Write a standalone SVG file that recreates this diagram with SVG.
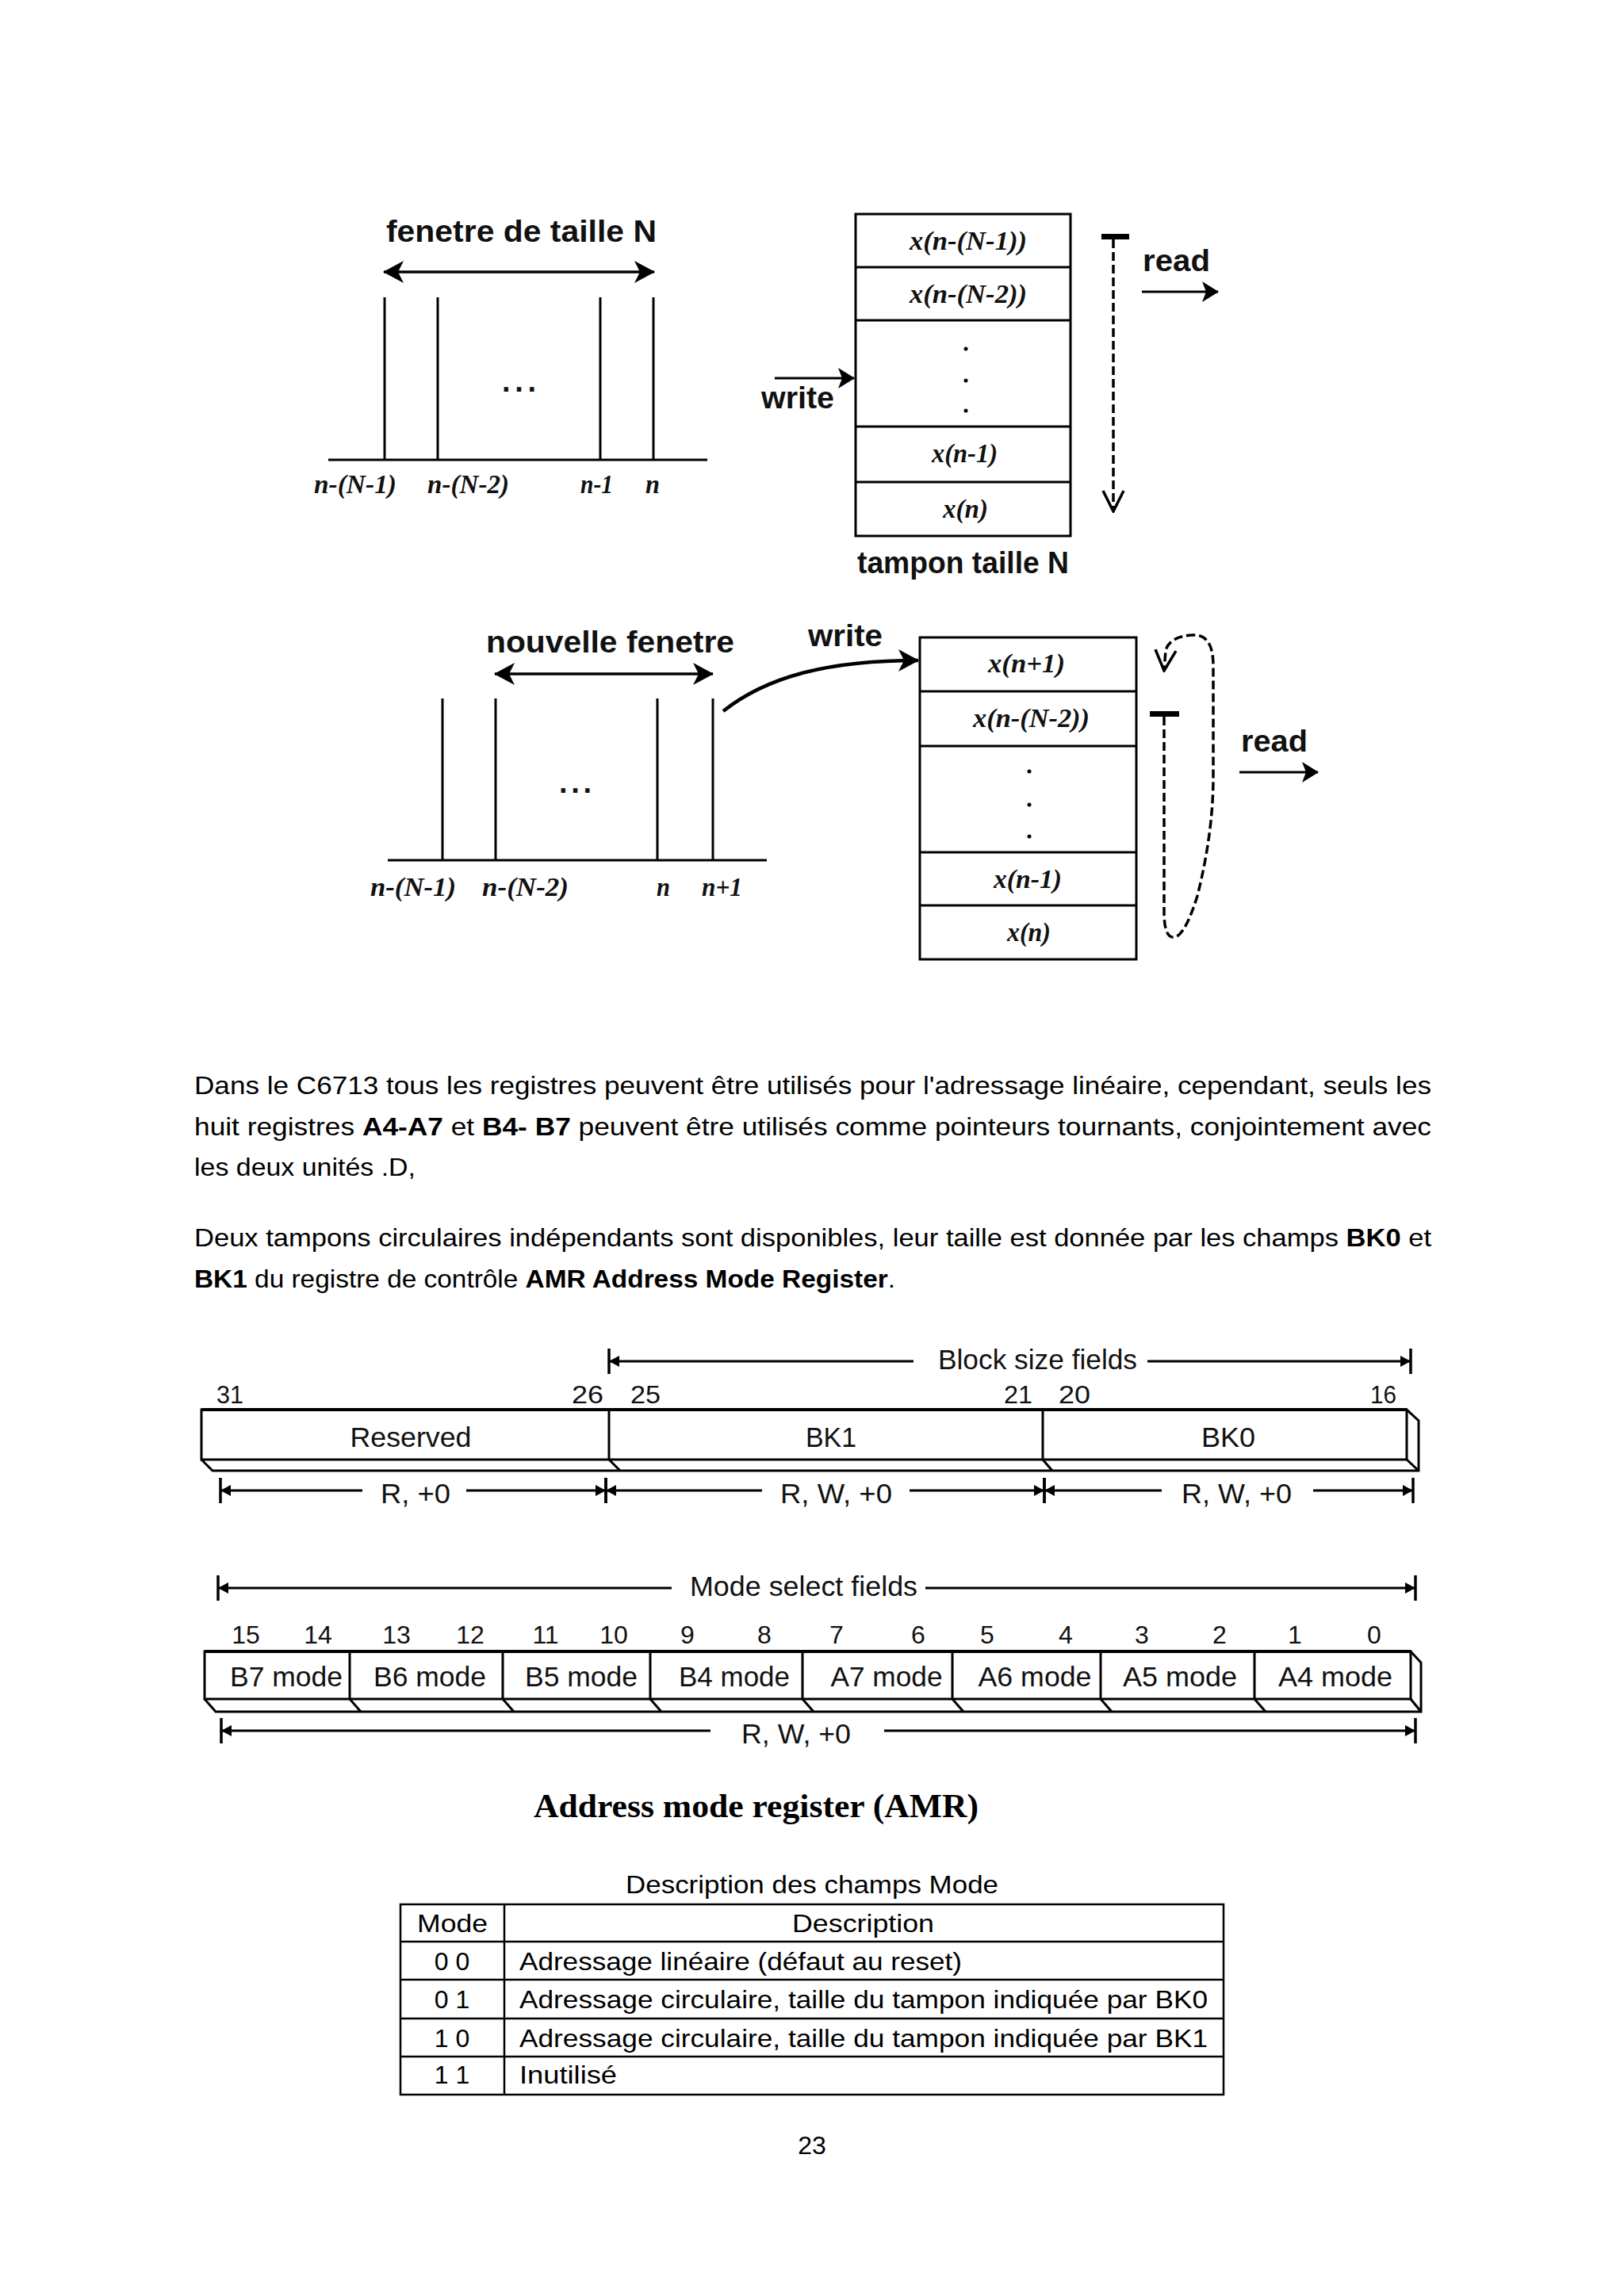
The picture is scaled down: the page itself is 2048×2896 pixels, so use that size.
<svg xmlns="http://www.w3.org/2000/svg" width="2048" height="2896" viewBox="0 0 2048 2896">
<defs>
<style>
.sb{font-family:"Liberation Sans",Arial,sans-serif;font-weight:bold;font-size:38px;fill:#111}
.mi{font-family:"Liberation Serif","Times New Roman",serif;font-weight:bold;font-style:italic;font-size:33px;fill:#111}
.rg{font-family:"Liberation Sans",Arial,sans-serif;font-size:35px;fill:#111}
.num{font-family:"Liberation Sans",Arial,sans-serif;font-size:32px;fill:#111}
.body{font-family:"Liberation Sans",Arial,sans-serif;font-size:32px;fill:#000}
.tb{font-family:"Liberation Sans",Arial,sans-serif;font-size:32px;fill:#000}
.ln{stroke:#000;stroke-width:3;fill:none}
.box{stroke:#000;stroke-width:3;fill:#fff}
.dash{stroke:#000;stroke-width:3.5;fill:none;stroke-dasharray:11 5}
.tk{stroke:#000;stroke-width:3;fill:none;marker-start:url(#tick)}
.tke{stroke:#000;stroke-width:3;fill:none;marker-end:url(#tick)}
</style>
<marker id="tick" viewBox="-16 -19 20 38" refX="0" refY="0" markerWidth="20" markerHeight="38" markerUnits="userSpaceOnUse" orient="auto-start-reverse">
<path d="M0,0 L-13,-7 L-13,7 Z" fill="#000"/>
<line x1="0" y1="-16" x2="0" y2="16" stroke="#000" stroke-width="3.5"/>
</marker>
<marker id="fa" viewBox="-28 -16 30 32" refX="0" refY="0" markerWidth="30" markerHeight="32" markerUnits="userSpaceOnUse" orient="auto-start-reverse">
<path d="M1,0 L-25,-14 L-18,0 L-25,14 Z" fill="#000"/>
</marker>
<marker id="fs" viewBox="-24 -15 26 30" refX="0" refY="0" markerWidth="26" markerHeight="30" markerUnits="userSpaceOnUse" orient="auto">
<path d="M1,0 L-20,-13 L-15,0 L-20,13 Z" fill="#000"/>
</marker>
<marker id="vo" viewBox="-30 -16 32 32" refX="0" refY="0" markerWidth="32" markerHeight="32" markerUnits="userSpaceOnUse" orient="auto">
<path d="M-26,-13 L0,0 L-26,13" fill="none" stroke="#000" stroke-width="3.5"/>
</marker>
</defs>
<rect x="0" y="0" width="2048" height="2896" fill="#fff"/>

<!-- Diagram 1: window -->
<g id="window1">
<text class="sb" x="487" y="305" textLength="341" lengthAdjust="spacingAndGlyphs">fenetre de taille N</text>
<line class="ln" x1="414" y1="580" x2="892" y2="580"/>
<line class="ln" x1="485" y1="375" x2="485" y2="580"/>
<line class="ln" x1="552" y1="375" x2="552" y2="580"/>
<line class="ln" x1="757" y1="375" x2="757" y2="580"/>
<line class="ln" x1="824" y1="375" x2="824" y2="580"/>
<text class="sb" x="633" y="494" textLength="43">...</text>
<text class="mi" x="396" y="622" textLength="104" lengthAdjust="spacingAndGlyphs">n-(N-1)</text>
<text class="mi" x="539" y="622" textLength="103" lengthAdjust="spacingAndGlyphs">n-(N-2)</text>
<text class="mi" x="732" y="622" textLength="41" lengthAdjust="spacingAndGlyphs">n-1</text>
<text class="mi" x="814" y="622" textLength="18" lengthAdjust="spacingAndGlyphs">n</text>
</g>

<g id="buffer1">
<rect class="box" x="1079" y="270" width="271" height="406"/>
<line class="ln" x1="1079" y1="337" x2="1350" y2="337"/>
<line class="ln" x1="1079" y1="404" x2="1350" y2="404"/>
<line class="ln" x1="1079" y1="538" x2="1350" y2="538"/>
<line class="ln" x1="1079" y1="608" x2="1350" y2="608"/>
<text class="mi" x="1147" y="315" textLength="148" lengthAdjust="spacingAndGlyphs">x(n-(N-1))</text>
<text class="mi" x="1147" y="382" textLength="148" lengthAdjust="spacingAndGlyphs">x(n-(N-2))</text>
<circle cx="1218" cy="440" r="2.5" fill="#000"/>
<circle cx="1218" cy="480" r="2.5" fill="#000"/>
<circle cx="1218" cy="518" r="2.5" fill="#000"/>
<text class="mi" x="1175" y="583" textLength="83" lengthAdjust="spacingAndGlyphs">x(n-1)</text>
<text class="mi" x="1189" y="653" textLength="57" lengthAdjust="spacingAndGlyphs">x(n)</text>
<text class="sb" x="1081" y="723" textLength="267" lengthAdjust="spacingAndGlyphs">tampon taille N</text>
</g>

<g id="labels1">
<text class="sb" x="960" y="515" textLength="92" lengthAdjust="spacingAndGlyphs">write</text>
<text class="sb" x="1441" y="342" textLength="85" lengthAdjust="spacingAndGlyphs">read</text>
<rect x="1389" y="295" width="35" height="7" fill="#000"/>
</g>

<!-- Diagram 2 -->
<g id="window2">
<text class="sb" x="613" y="823" textLength="313" lengthAdjust="spacingAndGlyphs">nouvelle fenetre</text>
<line class="ln" x1="489" y1="1085" x2="967" y2="1085"/>
<line class="ln" x1="558" y1="881" x2="558" y2="1085"/>
<line class="ln" x1="625" y1="881" x2="625" y2="1085"/>
<line class="ln" x1="829" y1="881" x2="829" y2="1085"/>
<line class="ln" x1="899" y1="881" x2="899" y2="1085"/>
<text class="sb" x="705" y="1000" textLength="41">...</text>
<text class="mi" x="467" y="1130" textLength="108" lengthAdjust="spacingAndGlyphs">n-(N-1)</text>
<text class="mi" x="608" y="1130" textLength="109" lengthAdjust="spacingAndGlyphs">n-(N-2)</text>
<text class="mi" x="828" y="1130" textLength="17" lengthAdjust="spacingAndGlyphs">n</text>
<text class="mi" x="885" y="1130" textLength="51" lengthAdjust="spacingAndGlyphs">n+1</text>
</g>

<g id="buffer2">
<rect class="box" x="1160" y="804" width="273" height="406"/>
<line class="ln" x1="1160" y1="872" x2="1433" y2="872"/>
<line class="ln" x1="1160" y1="941" x2="1433" y2="941"/>
<line class="ln" x1="1160" y1="1075" x2="1433" y2="1075"/>
<line class="ln" x1="1160" y1="1142" x2="1433" y2="1142"/>
<text class="mi" x="1246" y="848" textLength="97" lengthAdjust="spacingAndGlyphs">x(n+1)</text>
<text class="mi" x="1227" y="917" textLength="147" lengthAdjust="spacingAndGlyphs">x(n-(N-2))</text>
<circle cx="1298" cy="973" r="2.5" fill="#000"/>
<circle cx="1298" cy="1015" r="2.5" fill="#000"/>
<circle cx="1298" cy="1055" r="2.5" fill="#000"/>
<text class="mi" x="1253" y="1120" textLength="86" lengthAdjust="spacingAndGlyphs">x(n-1)</text>
<text class="mi" x="1270" y="1187" textLength="55" lengthAdjust="spacingAndGlyphs">x(n)</text>
</g>

<g id="labels2">
<text class="sb" x="1019" y="815" textLength="94" lengthAdjust="spacingAndGlyphs">write</text>
<text class="sb" x="1565" y="948" textLength="84" lengthAdjust="spacingAndGlyphs">read</text>
<rect x="1450" y="897" width="37" height="7" fill="#000"/>
</g>

<!-- Paragraph text -->
<g id="paragraph">
<text class="body" x="245" y="1380" textLength="1560" lengthAdjust="spacingAndGlyphs">Dans le C6713 tous les registres peuvent être utilisés pour l'adressage linéaire, cependant, seuls les</text>
<text class="body" x="245" y="1432" textLength="1560" lengthAdjust="spacingAndGlyphs">huit registres <tspan font-weight="bold">A4-A7</tspan> et <tspan font-weight="bold">B4- B7</tspan> peuvent être utilisés comme pointeurs tournants, conjointement avec</text>
<text class="body" x="245" y="1483" textLength="279" lengthAdjust="spacingAndGlyphs">les deux unités .D,</text>
<text class="body" x="245" y="1572" textLength="1560" lengthAdjust="spacingAndGlyphs">Deux tampons circulaires indépendants sont disponibles, leur taille est donnée par les champs <tspan font-weight="bold">BK0</tspan> et</text>
<text class="body" x="245" y="1624" textLength="884" lengthAdjust="spacingAndGlyphs"><tspan font-weight="bold">BK1</tspan> du registre de contrôle <tspan font-weight="bold">AMR Address Mode Register</tspan>.</text>
</g>

<!-- AMR register: block size fields -->
<g id="amr-block">
<text class="rg" x="1183" y="1727" textLength="251" lengthAdjust="spacingAndGlyphs">Block size fields</text>
<text class="num" x="273" y="1770" textLength="34" lengthAdjust="spacingAndGlyphs">31</text>
<text class="num" x="721" y="1770" textLength="40" lengthAdjust="spacingAndGlyphs">26</text>
<text class="num" x="795" y="1770" textLength="38" lengthAdjust="spacingAndGlyphs">25</text>
<text class="num" x="1266" y="1770" textLength="36" lengthAdjust="spacingAndGlyphs">21</text>
<text class="num" x="1335" y="1770" textLength="40" lengthAdjust="spacingAndGlyphs">20</text>
<text class="num" x="1728" y="1770" textLength="33" lengthAdjust="spacingAndGlyphs">16</text>
<rect x="254" y="1778" width="1520" height="63" fill="#fff" stroke="#000" stroke-width="3"/>
<line x1="254" y1="1778" x2="1774" y2="1778" stroke="#000" stroke-width="4"/>
<polyline class="ln" points="1774,1778 1789,1792 1789,1855 268,1855 254,1841"/>
<line class="ln" x1="1774" y1="1841" x2="1789" y2="1855"/>
<line class="ln" x1="768" y1="1778" x2="768" y2="1841"/>
<line class="ln" x1="768" y1="1841" x2="782" y2="1855"/>
<line class="ln" x1="1315" y1="1778" x2="1315" y2="1841"/>
<line class="ln" x1="1315" y1="1841" x2="1327" y2="1855"/>
<text class="rg" x="518" y="1825" text-anchor="middle" textLength="153" lengthAdjust="spacingAndGlyphs">Reserved</text>
<text class="rg" x="1048" y="1825" text-anchor="middle" textLength="64" lengthAdjust="spacingAndGlyphs">BK1</text>
<text class="rg" x="1549" y="1825" text-anchor="middle" textLength="68" lengthAdjust="spacingAndGlyphs">BK0</text>
<text class="rg" x="480" y="1896" textLength="88" lengthAdjust="spacingAndGlyphs">R, +0</text>
<text class="rg" x="984" y="1896" textLength="141" lengthAdjust="spacingAndGlyphs">R, W, +0</text>
<text class="rg" x="1490" y="1896" textLength="139" lengthAdjust="spacingAndGlyphs">R, W, +0</text>
</g>

<!-- AMR register: mode select fields -->
<g id="amr-mode">
<text class="rg" x="870" y="2013" textLength="287" lengthAdjust="spacingAndGlyphs">Mode select fields</text>
<g class="num" text-anchor="middle">
<text x="310" y="2073">15</text><text x="401" y="2073">14</text>
<text x="500" y="2073">13</text><text x="593" y="2073">12</text>
<text x="688" y="2073">11</text><text x="774" y="2073">10</text>
<text x="867" y="2073">9</text><text x="964" y="2073">8</text>
<text x="1055" y="2073">7</text><text x="1158" y="2073">6</text>
<text x="1245" y="2073">5</text><text x="1344" y="2073">4</text>
<text x="1440" y="2073">3</text><text x="1538" y="2073">2</text>
<text x="1633" y="2073">1</text><text x="1733" y="2073">0</text>
</g>
<rect x="258" y="2083" width="1521" height="60" fill="#fff" stroke="#000" stroke-width="3"/>
<line x1="258" y1="2083" x2="1779" y2="2083" stroke="#000" stroke-width="4"/>
<polyline class="ln" points="1779,2083 1792,2097 1792,2159 272,2159 258,2143"/>
<line class="ln" x1="1779" y1="2143" x2="1792" y2="2159"/>
<path class="ln" d="M441,2083V2143L455,2159M634,2083V2143L648,2159M820,2083V2143L834,2159M1012,2083V2143L1026,2159M1201,2083V2143L1215,2159M1388,2083V2143L1402,2159M1582,2083V2143L1596,2159"/>
<g class="rg" text-anchor="middle">
<text x="361" y="2127" textLength="142" lengthAdjust="spacingAndGlyphs">B7 mode</text>
<text x="542" y="2127" textLength="142" lengthAdjust="spacingAndGlyphs">B6 mode</text>
<text x="733" y="2127" textLength="142" lengthAdjust="spacingAndGlyphs">B5 mode</text>
<text x="926" y="2127" textLength="140" lengthAdjust="spacingAndGlyphs">B4 mode</text>
<text x="1118" y="2127" textLength="141" lengthAdjust="spacingAndGlyphs">A7 mode</text>
<text x="1305" y="2127" textLength="143" lengthAdjust="spacingAndGlyphs">A6 mode</text>
<text x="1488" y="2127" textLength="144" lengthAdjust="spacingAndGlyphs">A5 mode</text>
<text x="1684" y="2127" textLength="144" lengthAdjust="spacingAndGlyphs">A4 mode</text>
</g>
<text class="rg" x="935" y="2199" textLength="138" lengthAdjust="spacingAndGlyphs">R, W, +0</text>
</g>

<g id="amr-title">
<text x="673" y="2292" font-family="'Liberation Serif','Times New Roman',serif" font-weight="bold" font-size="42" textLength="561" lengthAdjust="spacingAndGlyphs" fill="#000">Address mode register (AMR)</text>
</g>

<!-- Table -->
<g id="mode-table">
<text class="tb" x="789" y="2388" textLength="470" lengthAdjust="spacingAndGlyphs">Description des champs Mode</text>
<rect x="505" y="2402" width="1038" height="240" fill="none" stroke="#000" stroke-width="2.5"/>
<path d="M505,2449H1543M505,2497H1543M505,2546H1543M505,2594H1543M636,2402V2642" stroke="#000" stroke-width="2.5" fill="none"/>
<text class="tb" x="526" y="2437" textLength="89" lengthAdjust="spacingAndGlyphs">Mode</text>
<text class="tb" x="999" y="2437" textLength="179" lengthAdjust="spacingAndGlyphs">Description</text>
<g class="tb" text-anchor="middle">
<text x="570" y="2485">0 0</text>
<text x="570" y="2533">0 1</text>
<text x="570" y="2582">1 0</text>
<text x="570" y="2628">1 1</text>
</g>
<text class="tb" x="655" y="2485" textLength="558" lengthAdjust="spacingAndGlyphs">Adressage linéaire (défaut au reset)</text>
<text class="tb" x="655" y="2533" textLength="868" lengthAdjust="spacingAndGlyphs">Adressage circulaire, taille du tampon indiquée par BK0</text>
<text class="tb" x="655" y="2582" textLength="868" lengthAdjust="spacingAndGlyphs">Adressage circulaire, taille du tampon indiquée par BK1</text>
<text class="tb" x="655" y="2628" textLength="123" lengthAdjust="spacingAndGlyphs">Inutilisé</text>
</g>

<g id="page-number">
<text class="tb" x="1024" y="2717" text-anchor="middle">23</text>
</g>

<!-- Connectors -->
<g id="connectors">
<line x1="484" y1="343" x2="825" y2="343" stroke="#000" stroke-width="3.5" marker-start="url(#fa)" marker-end="url(#fa)"/>
<line x1="977" y1="477" x2="1077" y2="477" stroke="#000" stroke-width="3" marker-end="url(#fs)"/>
<line x1="1440" y1="368" x2="1536" y2="368" stroke="#000" stroke-width="3" marker-end="url(#fs)"/>
<line class="dash" x1="1404" y1="302" x2="1404" y2="645" marker-end="url(#vo)"/>
<line x1="624" y1="850" x2="899" y2="850" stroke="#000" stroke-width="3.5" marker-start="url(#fa)" marker-end="url(#fa)"/>
<path d="M912,897 C965,855 1040,833 1158,833" fill="none" stroke="#000" stroke-width="4.5" marker-end="url(#fa)"/>
<path class="dash" d="M1468,904 L1468,1150 Q1468,1185 1482,1182 Q1495,1178 1510,1130 Q1530,1050 1530,980 L1530,840 Q1530,800 1505,801 Q1476,802 1470,820 L1468,846" marker-end="url(#vo)"/>
<line x1="1563" y1="974" x2="1662" y2="974" stroke="#000" stroke-width="3" marker-end="url(#fs)"/>
<line class="tk" x1="768" y1="1717" x2="1152" y2="1717"/>
<line class="tke" x1="1447" y1="1717" x2="1779" y2="1717"/>
<line class="tk" x1="278" y1="1880" x2="457" y2="1880"/>
<line class="tke" x1="588" y1="1880" x2="764" y2="1880"/>
<line class="tk" x1="764" y1="1880" x2="961" y2="1880"/>
<line class="tke" x1="1147" y1="1880" x2="1317" y2="1880"/>
<line class="tk" x1="1317" y1="1880" x2="1465" y2="1880"/>
<line class="tke" x1="1656" y1="1880" x2="1782" y2="1880"/>
<line class="tk" x1="275" y1="2003" x2="847" y2="2003"/>
<line class="tke" x1="1167" y1="2003" x2="1785" y2="2003"/>
<line class="tk" x1="279" y1="2183" x2="896" y2="2183"/>
<line class="tke" x1="1115" y1="2183" x2="1785" y2="2183"/>
</g>
</svg>
